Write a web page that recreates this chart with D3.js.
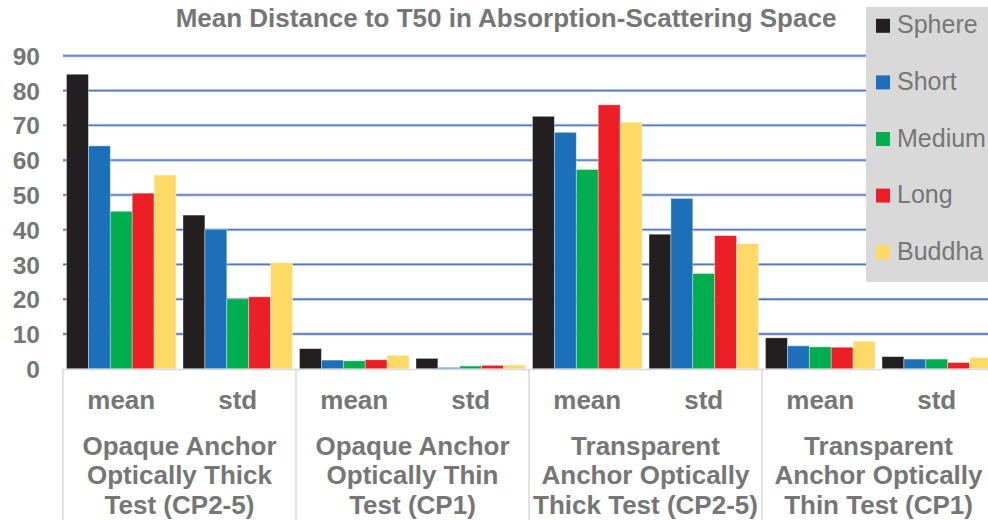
<!DOCTYPE html>
<html>
<head>
<meta charset="utf-8">
<script src="https://cdn.jsdelivr.net/npm/d3@7/dist/d3.min.js"></script>
<style>
  html, body { margin: 0; padding: 0; background: #ffffff; }
  svg { display: block; }
  text { font-family: "Liberation Sans", Arial, sans-serif; }
</style>
</head>
<body>
<svg id="chart" width="988" height="520"></svg>
<script>
// Test conditions (outer categories), statistics (inner categories) and shapes (series)
const groupLabels = [
  ["Opaque Anchor", "Optically Thick", "Test (CP2-5)"],
  ["Opaque Anchor", "Optically Thin", "Test (CP1)"],
  ["Transparent", "Anchor Optically", "Thick Test (CP2-5)"],
  ["Transparent", "Anchor Optically", "Thin Test (CP1)"]
];
const stats = ["mean", "std"];
const seriesNames = ["Sphere", "Short", "Medium", "Long", "Buddha"];
const seriesColors = ["#231f20", "#1b70b9", "#00ad4f", "#ec1f26", "#ffd966"];
const yTicks = [0, 10, 20, 30, 40, 50, 60, 70, 80, 90];

// Values in order: group1 mean, group1 std, group2 mean, group2 std, ...
const sphere = [84.7, 44.2, 5.8, 3.0, 72.6, 38.7, 8.9, 3.5];
const short  = [64.1, 40.1, 2.5, 0.4, 68.0, 49.0, 6.6, 2.8];
const medium = [45.3, 20.1, 2.3, 0.8, 57.3, 27.4, 6.3, 2.8];
const long   = [50.5, 20.7, 2.6, 1.0, 75.9, 38.3, 6.2, 1.8];
const buddha = [55.7, 30.5, 3.9, 1.1, 70.9, 36.0, 7.9, 3.2];
const seriesValues = [sphere, short, medium, long, buddha];

const svg = d3.select("#chart");
const textColor = "#767676";

const groupIds = groupLabels.map((d, i) => i);
const x0 = d3.scaleBand().domain(groupIds).range([63, 995]).padding(0);
const x1 = d3.scaleBand().domain(stats).range([0, x0.bandwidth()]).padding(0);
const x2 = d3.scaleBand().domain(seriesNames).range([3.5, x1.bandwidth() - 3.5]).padding(0);
const y = d3.scaleLinear().domain([0, 90]).range([368.8, 55.8]);

// Title
svg.append("text")
  .attr("x", 506).attr("y", 27)
  .attr("text-anchor", "middle")
  .attr("font-size", 26).attr("font-weight", "bold")
  .attr("fill", textColor)
  .text("Mean Distance to T50 in Absorption-Scattering Space");

// Horizontal gridlines
const grid = svg.append("g");
yTicks.filter(t => t > 0).forEach(t => {
  grid.append("line")
    .attr("x1", 63).attr("x2", 988)
    .attr("y1", y(t)).attr("y2", y(t))
    .attr("stroke", "#b7c7e6").attr("stroke-width", 3);
  grid.append("line")
    .attr("x1", 63).attr("x2", 988)
    .attr("y1", y(t)).attr("y2", y(t))
    .attr("stroke", "#4f77c4").attr("stroke-width", 1.3);
});

// Y axis labels
const yAxis = d3.axisLeft(y).tickValues(yTicks).tickSize(0).tickPadding(0);
const yG = svg.append("g").attr("transform", "translate(40,0)").call(yAxis);
yG.select(".domain").remove();
yG.selectAll("text")
  .attr("font-size", 24.5).attr("font-weight", "bold")
  .attr("fill", textColor)
  .attr("font-family", "Liberation Sans, Arial, sans-serif")
  .attr("dy", "0.35em");

// Bars
const rows = [];
groupIds.forEach((g, gi) => {
  stats.forEach((s, si) => {
    seriesNames.forEach((n, ni) => {
      rows.push({ g, s, n, color: seriesColors[ni], v: seriesValues[ni][gi * 2 + si] });
    });
  });
});
svg.append("g").selectAll("rect").data(rows).join("rect")
  .attr("x", d => x0(d.g) + x1(d.s) + x2(d.n))
  .attr("y", d => y(d.v))
  .attr("width", x2.bandwidth())
  .attr("height", d => y(0) - y(d.v))
  .attr("fill", d => d.color)
  .attr("stroke", "#ffffff").attr("stroke-opacity", 0.45).attr("stroke-width", 0.8);

// Category axis line and separators
svg.append("line")
  .attr("x1", 63).attr("x2", 988)
  .attr("y1", y(0) + 0.8).attr("y2", y(0) + 0.8)
  .attr("stroke", "#d9d9d9").attr("stroke-width", 1.5);
groupIds.concat([groupIds.length]).forEach(i => {
  const xx = i < groupIds.length ? x0(i) : x0.range()[1];
  svg.append("line")
    .attr("x1", xx).attr("x2", xx)
    .attr("y1", y(0)).attr("y2", 520)
    .attr("stroke", "#d9d9d9").attr("stroke-width", 1.5);
});

// Inner category labels
groupIds.forEach(g => {
  stats.forEach(s => {
    svg.append("text")
      .attr("x", x0(g) + x1(s) + x1.bandwidth() / 2)
      .attr("y", 408.5)
      .attr("text-anchor", "middle")
      .attr("font-size", 26).attr("font-weight", "bold")
      .attr("fill", textColor)
      .text(s);
  });
  // Outer category labels
  const t = svg.append("text")
    .attr("text-anchor", "middle")
    .attr("font-size", 26).attr("font-weight", "bold")
    .attr("fill", textColor);
  groupLabels[g].forEach((line, li) => {
    t.append("tspan")
      .attr("x", x0(g) + x0.bandwidth() / 2)
      .attr("y", 454.5 + li * 29.5)
      .text(line);
  });
});

// Legend
const lg = svg.append("g");
lg.append("rect")
  .attr("x", 866).attr("y", 7).attr("width", 130).attr("height", 275)
  .attr("fill", "#d9d9d9");
seriesNames.forEach((n, i) => {
  const by = 33.3 + i * 56.6;
  lg.append("rect")
    .attr("x", 876).attr("y", by - 14.5).attr("width", 14).attr("height", 14)
    .attr("fill", seriesColors[i]);
  lg.append("text")
    .attr("x", 897).attr("y", by)
    .attr("font-size", 25)
    .attr("fill", textColor)
    .text(n);
});
</script>
</body>
</html>
